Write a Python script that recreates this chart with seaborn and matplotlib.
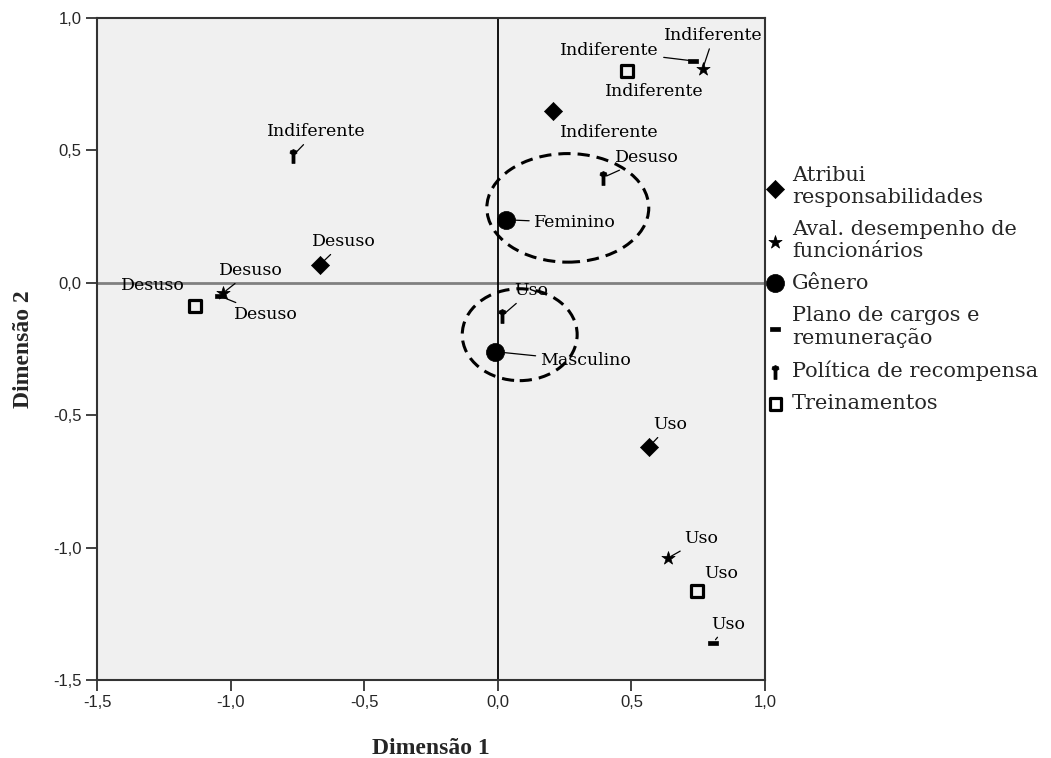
import matplotlib
matplotlib.use("Agg")
import matplotlib.pyplot as plt
import seaborn as sns
import numpy as np
from matplotlib.path import Path
from matplotlib.patches import Ellipse

# Coordenadas das categorias (Dimensão 1 x Dimensão 2)
variaveis = ["Atribui responsabilidades", "Aval. desempenho de funcionários", "Gênero",
             "Plano de cargos e remuneração", "Política de recompensa", "Treinamentos"]
legenda = ["Atribui\nresponsabilidades", "Aval. desempenho de\nfuncionários", "Gênero",
           "Plano de cargos e\nremuneração", "Política de recompensa", "Treinamentos"]

variavel = ([variaveis[0]] * 3 + [variaveis[1]] * 3 + [variaveis[2]] * 2
            + [variaveis[3]] * 3 + [variaveis[4]] * 3 + [variaveis[5]] * 3)
categoria = ["Indiferente", "Desuso", "Uso",
             "Indiferente", "Desuso", "Uso",
             "Feminino", "Masculino",
             "Indiferente", "Desuso", "Uso",
             "Indiferente", "Desuso", "Uso",
             "Indiferente", "Desuso", "Uso"]
dim1 = [0.206, -0.666, 0.565,
        0.767, -1.03, 0.636,
        0.03, -0.011,
        0.73, -1.04, 0.805,
        -0.767, 0.393, 0.015,
        0.483, -1.134, 0.745]
dim2 = [0.65, 0.068, -0.62,
        0.808, -0.04, -1.04,
        0.238, -0.26,
        0.838, -0.05, -1.36,
        0.48, 0.397, -0.125,
        0.80, -0.087, -1.163]

# posição dos rótulos
rot_x = [0.419, -0.576, 0.644,
         0.808, -0.924, 0.763,
         0.288, 0.329,
         0.419, -0.868, 0.861,
         -0.681, 0.558, 0.124,
         0.584, -1.291, 0.838]
rot_y = [0.566, 0.155, -0.536,
         0.933, 0.045, -0.967,
         0.227, -0.295,
         0.876, -0.121, -1.29,
         0.570, 0.472, -0.03,
         0.721, -0.011, -1.099]
linha = [False, True, True,
         True, True, True,
         True, True,
         True, True, True,
         True, True, True,
         False, False, False]

# elipses tracejadas (centro x, centro y, largura, altura)
elipse_cx = [0.262, 0.082]
elipse_cy = [0.283, -0.196]
elipse_w = [0.606, 0.43]
elipse_h = [0.41, 0.347]

xticks = [-1.5, -1.0, -0.5, 0.0, 0.5, 1.0]
yticks = [-1.5, -1.0, -0.5, 0.0, 0.5, 1.0]

# marcadores
traco = Path([(-1, -0.35), (1, -0.35), (1, 0.35), (-1, 0.35), (-1, -0.35)],
             [Path.MOVETO, Path.LINETO, Path.LINETO, Path.LINETO, Path.CLOSEPOLY])
seta = Path([(-0.22, -1), (0.22, -1), (0.22, 0.3), (0.5, 0.45), (0.45, 0.8),
             (0, 1), (-0.45, 0.8), (-0.5, 0.45), (-0.22, 0.3), (-0.22, -1)],
            [Path.MOVETO] + [Path.LINETO] * 8 + [Path.CLOSEPOLY])
estilos = {
    variaveis[0]: dict(marker="D", s=85),
    variaveis[1]: dict(marker="*", s=100),
    variaveis[2]: dict(marker="o", s=170),
    variaveis[3]: dict(marker=traco, s=60),
    variaveis[4]: dict(marker=seta, s=100),
    variaveis[5]: dict(marker="s", s=70),
}

sns.set_style("ticks")
plt.rcParams["font.family"] = ["DejaVu Serif"]

fig = plt.figure(figsize=(10.51, 7.58), dpi=100)
ax = fig.add_axes([97 / 1051, 78 / 758, 668 / 1051, 662 / 758])
ax.set_facecolor("#f0f0f0")

ax.axhline(0, color="#808080", lw=2, zorder=1)
ax.axvline(0, color="black", lw=1.3, zorder=1)

v_arr = np.array(variavel)
x_arr = np.array(dim1)
y_arr = np.array(dim2)
for v, lab in zip(variaveis, legenda):
    m = v_arr == v
    st = estilos[v]
    if v == "Treinamentos":
        sns.scatterplot(x=x_arr[m], y=y_arr[m], marker=st["marker"], s=st["s"],
                        facecolor="none", edgecolor="black", linewidth=2.3,
                        label=lab, ax=ax, zorder=3)
    else:
        sns.scatterplot(x=x_arr[m], y=y_arr[m], marker=st["marker"], s=st["s"],
                        color="black", edgecolor="black", linewidth=0.5,
                        label=lab, ax=ax, zorder=3)

for i in range(len(categoria)):
    props = dict(arrowstyle="-", color="black", lw=0.9, shrinkA=1, shrinkB=3) if linha[i] else None
    ax.annotate(categoria[i], xy=(dim1[i], dim2[i]), xytext=(rot_x[i], rot_y[i]),
                ha="center", va="center", fontsize=12.5, color="black",
                arrowprops=props, zorder=4)

for cx, cy, w, h in zip(elipse_cx, elipse_cy, elipse_w, elipse_h):
    ax.add_patch(Ellipse((cx, cy), w, h, fill=False, edgecolor="black", lw=2.2,
                         linestyle=(0, (4, 2.3)), zorder=2))

ax.set_xlim(-1.5, 1.0)
ax.set_ylim(-1.5, 1.0)
ax.set_xticks(xticks)
ax.set_yticks(yticks)
ax.set_xticklabels([f"{t:.1f}".replace(".", ",") for t in xticks],
                   family="Liberation Sans", fontsize=12)
ax.set_yticklabels([f"{t:.1f}".replace(".", ",") for t in yticks],
                   family="Liberation Sans", fontsize=12)
ax.tick_params(direction="out", length=8, width=1.3, color="#333333", pad=3)
for sp in ax.spines.values():
    sp.set_color("#333333")
    sp.set_linewidth(1.5)

ax.set_xlabel("Dimensão 1", family="Liberation Serif", fontweight="bold", fontsize=17, labelpad=20)
ax.set_ylabel("Dimensão 2", family="Liberation Serif", fontweight="bold", fontsize=17, labelpad=14)

leg = ax.legend(loc="upper left", bbox_to_anchor=(765 / 1051, 1 - 166 / 758),
                bbox_transform=fig.transFigure, frameon=False, fontsize=15,
                handlelength=1.0, handletextpad=0.3, labelspacing=0.62,
                borderpad=0, borderaxespad=0)

fig.savefig("out.png", dpi=100)
